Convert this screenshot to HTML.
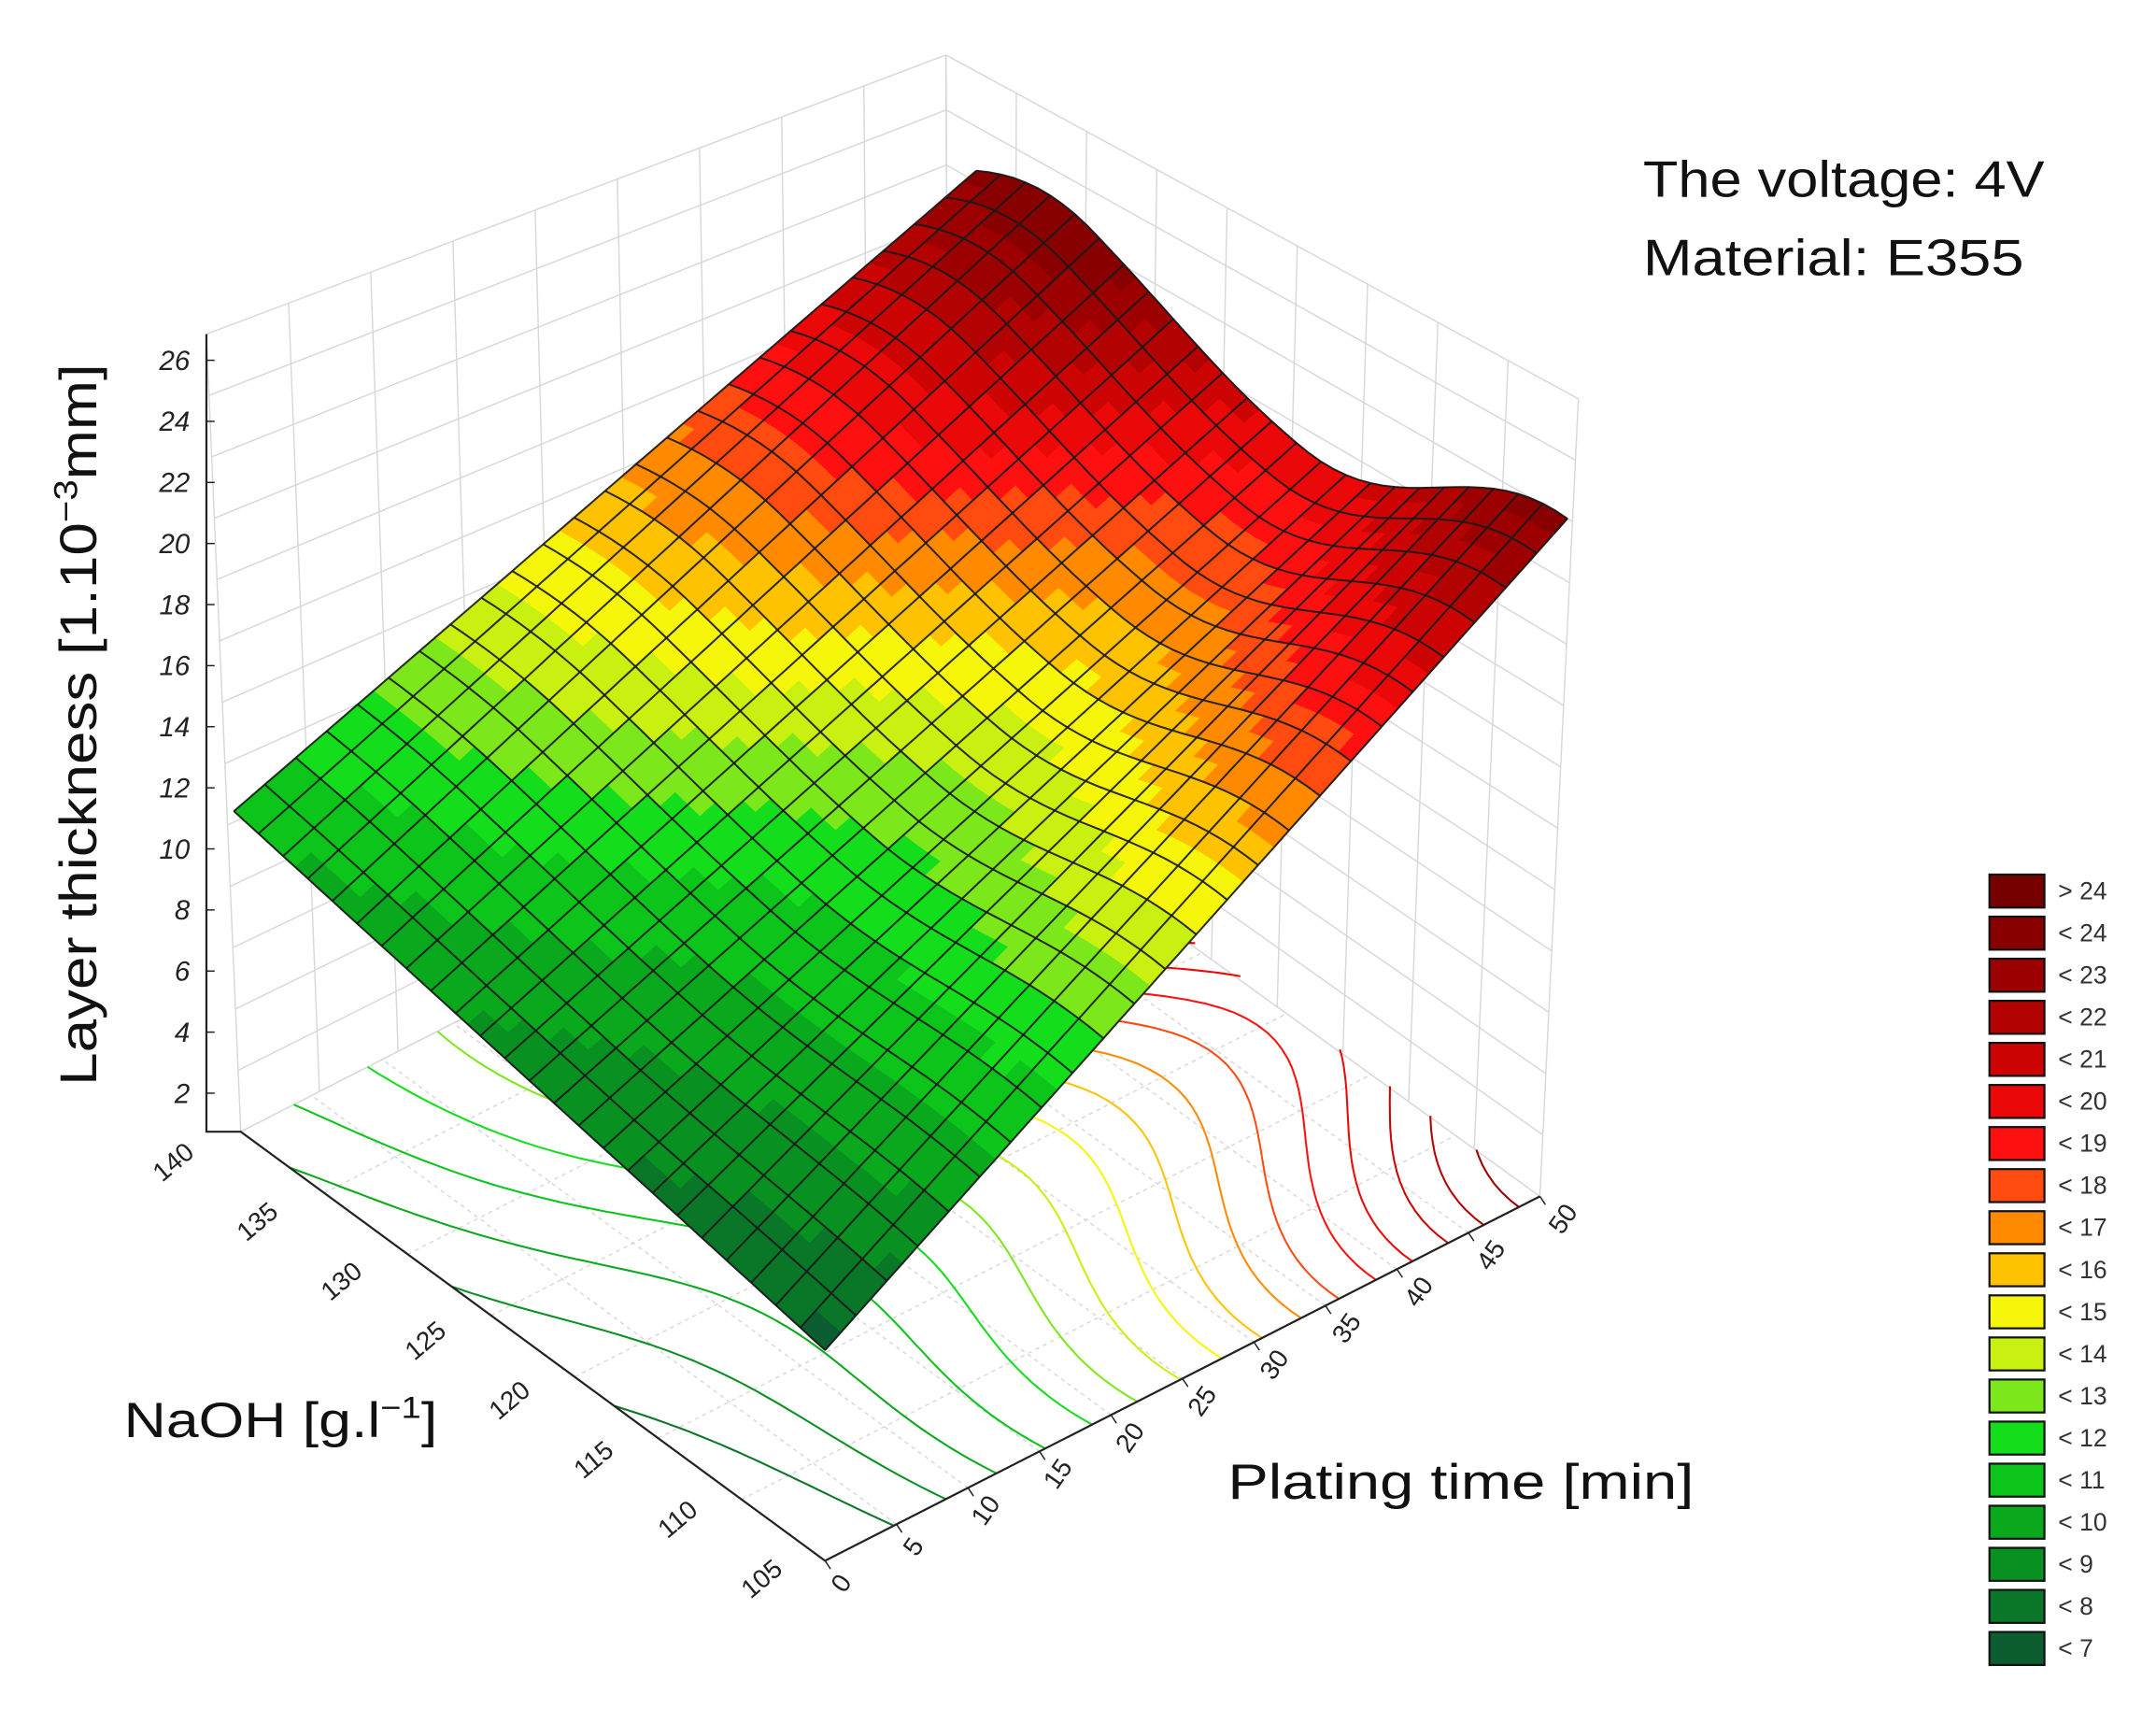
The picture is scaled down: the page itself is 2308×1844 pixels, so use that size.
<!DOCTYPE html>
<html><head><meta charset="utf-8"><style>
html,body{margin:0;padding:0;background:#fff}
svg{display:block}
text{font-family:"Liberation Sans",sans-serif}
</style></head><body>
<svg id="s" xmlns="http://www.w3.org/2000/svg" width="2308" height="1844" viewBox="0 0 1568 1253">
<rect width="1568" height="1253" fill="#fff"/>
<g id="walls" stroke="#d8d8d8" stroke-width="1" fill="none"></g>
<g id="cont" fill="none" stroke-width="1.4"></g>
<g id="surf"></g>
<g id="grid" fill="none" stroke="#1a1a1a" stroke-width="1.4" stroke-opacity="0.9"></g>
<g stroke="#222" stroke-width="1.5" fill="none">
<polyline points="150,243 150,823 175,823 600,1135 1120,870"/>
</g>
<g font-size="20" fill="#222" font-style="italic" text-anchor="end" id="zt"></g>
<g font-size="19" fill="#222" id="nt"></g>
<g font-size="19" fill="#222" id="tt"></g>
<text x="0" y="0" font-size="38" fill="#111" transform="translate(70,527) rotate(-90)" text-anchor="middle" textLength="525" lengthAdjust="spacingAndGlyphs">Layer thickness [1.10<tspan font-size="24" dy="-14">−3</tspan><tspan dy="14">mm]</tspan></text>
<text x="90" y="1045" font-size="36" fill="#111" textLength="228" lengthAdjust="spacingAndGlyphs">NaOH [g.l<tspan font-size="22" dy="-14">−1</tspan><tspan dy="14">]</tspan></text>
<text x="893" y="1090" font-size="36" fill="#111" textLength="339" lengthAdjust="spacingAndGlyphs">Plating time [min]</text>
<text x="1195" y="143" font-size="37" fill="#111" textLength="292" lengthAdjust="spacingAndGlyphs">The voltage: 4V</text>
<text x="1195" y="200" font-size="37" fill="#111" textLength="277" lengthAdjust="spacingAndGlyphs">Material: E355</text>
<g id="leg"></g>
</svg>
<script>
(function(){
var NS="http://www.w3.org/2000/svg";
function el(p,n,a,t){var e=document.createElementNS(NS,n);for(var k in a)e.setAttribute(k,a[k]);if(t!==undefined)e.textContent=t;document.getElementById(p).appendChild(e);return e;}
var cols=["#0c5e30","#0a7628","#089020","#0aa81c","#0cc41a","#14de1c","#7ce81c","#c8f010","#f6f60a","#ffc200","#ff8a00","#ff4a10","#ff1010","#ea0808","#cc0404","#b20202","#9c0000","#880000","#760000"];
function col(z){var i=0;for(var t=7;t<=24;t++){if(z>=t)i++;}return cols[i];}
var labs=["> 24","< 24","< 23","< 22","< 21","< 20","< 19","< 18","< 17","< 16","< 15","< 14","< 13","< 12","< 11","< 10","< 9","< 8","< 7"];
for(var i=0;i<19;i++){var y=636+i*30.6;el("leg","rect",{x:1447,y:y,width:40,height:24,fill:cols[18-i],stroke:"#111","stroke-width":1.5});
el("leg","text",{x:1497,y:y+18,"font-size":18,fill:"#333"},labs[i]);}
function lerp(a,b,t){return [a[0]+(b[0]-a[0])*t,a[1]+(b[1]-a[1])*t];}
var LT=[150,243],BT=[688,40],RT=[1148,290],LB=[175,823],BB=[690,560],RB=[1120,870];
function wall(A,B,AT,BT2){var n=9;for(var i=0;i<=n;i++){var p=lerp(A,B,i/n),q=lerp(AT,BT2,i/n);el("walls","line",{x1:p[0],y1:p[1],x2:q[0],y2:q[1]});}
for(var j=0;j<=13;j++){var t=j/13;var p=lerp(A,AT,t),q=lerp(B,BT2,t);el("walls","line",{x1:p[0],y1:p[1],x2:q[0],y2:q[1]});}}
wall(LB,BB,LT,BT);wall(BB,RB,BT,RT);
var F=[600,1135],R=[1120,870],L=[175,823];
for(var i=0;i<=10;i++){var p=lerp(F,R,i/10),q=lerp(L,BB,i/10);el("walls","line",{x1:p[0],y1:p[1],x2:q[0],y2:q[1],"stroke-dasharray":"3,3"});}
for(var i=0;i<=7;i++){var p=lerp(F,L,i/7),q=lerp(R,BB,i/7);el("walls","line",{x1:p[0],y1:p[1],x2:q[0],y2:q[1],"stroke-dasharray":"3,3"});}
function P(u,v,z){var x=F[0]+u*(R[0]-F[0])+v*(L[0]-F[0]);x+= (u*20 - v*5);return [x, F[1]+u*(R[1]-F[1])+v*(L[1]-F[1])-(z-1.3)*22.2];}
function ss(a,b,x){var t=Math.max(0,Math.min(1,(x-a)/(b-a)));return t*t*(3-2*t);}
function SUB(v){return 1.7*ss(0.45,0.8,v);}
function Z(u,v){var f0=8.2+3.6*v;var f1=21.5+2.0*Math.cos(2*Math.PI*v/0.86)-SUB(v);return f0*(1-u)+f1*u;}
function C(u,v){return Z(u,v)-1.5+1.6*u+u*SUB(v)*1.3-1.1*Math.sin(Math.PI*u);}
var M=60;
function interp(a,b,za,zb,l){var t=(l-za)/(zb-za);return [a[0]+(b[0]-a[0])*t,a[1]+(b[1]-a[1])*t];}
for(var l=8;l<=24;l++){var d="";
for(var i=0;i<M;i++)for(var j=0;j<M;j++){
var c=[[i/M,j/M],[(i+1)/M,j/M],[(i+1)/M,(j+1)/M],[i/M,(j+1)/M]];var zs=c.map(function(q){return C(q[0],q[1]);});
var pts=[];for(var k=0;k<4;k++){var a=zs[k],b=zs[(k+1)%4];if((a<l)!=(b<l)){pts.push(interp(c[k],c[(k+1)%4],a,b,l));}}
for(var k=0;k+1<pts.length;k+=2){var A=lerp(F,R,pts[k][0]),B=lerp(F,R,pts[k+1][0]);
A=[A[0]+pts[k][1]*(L[0]-F[0]),A[1]+pts[k][1]*(L[1]-F[1])];B=[B[0]+pts[k+1][1]*(L[0]-F[0]),B[1]+pts[k+1][1]*(L[1]-F[1])];
d+="M"+A[0].toFixed(1)+","+A[1].toFixed(1)+"L"+B[0].toFixed(1)+","+B[1].toFixed(1);}}
el("cont","path",{d:d,stroke:col(l-0.5)});}
var N=48,cells=[];
for(var i=0;i<N;i++)for(var j=0;j<N;j++)cells.push([i,j]);
cells.sort(function(a,b){return (b[0]+b[1])-(a[0]+a[1]);});
var g=document.getElementById("surf");var frag=document.createDocumentFragment();
cells.forEach(function(c){var i=c[0],j=c[1];var q=[[i,j],[i+1,j],[i+1,j+1],[i,j+1]].map(function(p){var u=p[0]/N,v=p[1]/N;return P(u,v,Z(u,v));});
var cl=col(C((i+.5)/N,(j+.5)/N));
var e=document.createElementNS(NS,"polygon");e.setAttribute("points",q.map(function(p){return p[0].toFixed(1)+","+p[1].toFixed(1);}).join(" "));e.setAttribute("fill",cl);e.setAttribute("stroke",cl);e.setAttribute("stroke-width","0.8");frag.appendChild(e);});
g.appendChild(frag);
for(var i=0;i<=N;i+=2){var d1="",d2="";for(var j=0;j<=N;j++){var p=P(i/N,j/N,Z(i/N,j/N));d1+=(j?"L":"M")+p[0].toFixed(1)+","+p[1].toFixed(1);var q=P(j/N,i/N,Z(j/N,i/N));d2+=(j?"L":"M")+q[0].toFixed(1)+","+q[1].toFixed(1);}
el("grid","path",{d:d1});el("grid","path",{d:d2});}
for(var v=2;v<=26;v+=2){var y=795-(v-2)*(533/24);el("zt","text",{x:138,y:y+7},v);el("zt","line",{x1:150,y1:y,x2:156,y2:y,stroke:"#222"});}
var nl=["140","135","130","125","120","115","110","105"];
for(var i=0;i<8;i++){var p=lerp([130,850],[558,1153],i/7);el("nt","text",{x:0,y:0,transform:"translate("+p[0]+","+p[1]+") rotate(-40)","text-anchor":"middle"},nl[i]);}
for(var i=0;i<=10;i++){var p=lerp([617,1155],[1142,890],i/10);el("tt","text",{x:0,y:0,transform:"translate("+p[0]+","+p[1]+") rotate(-55)","text-anchor":"middle"},String(i*5));
var a=lerp(F,R,i/10);el("tt","line",{x1:a[0],y1:a[1],x2:a[0]+4,y2:a[1]+6,stroke:"#222"});}
})();
</script>
</body></html>
